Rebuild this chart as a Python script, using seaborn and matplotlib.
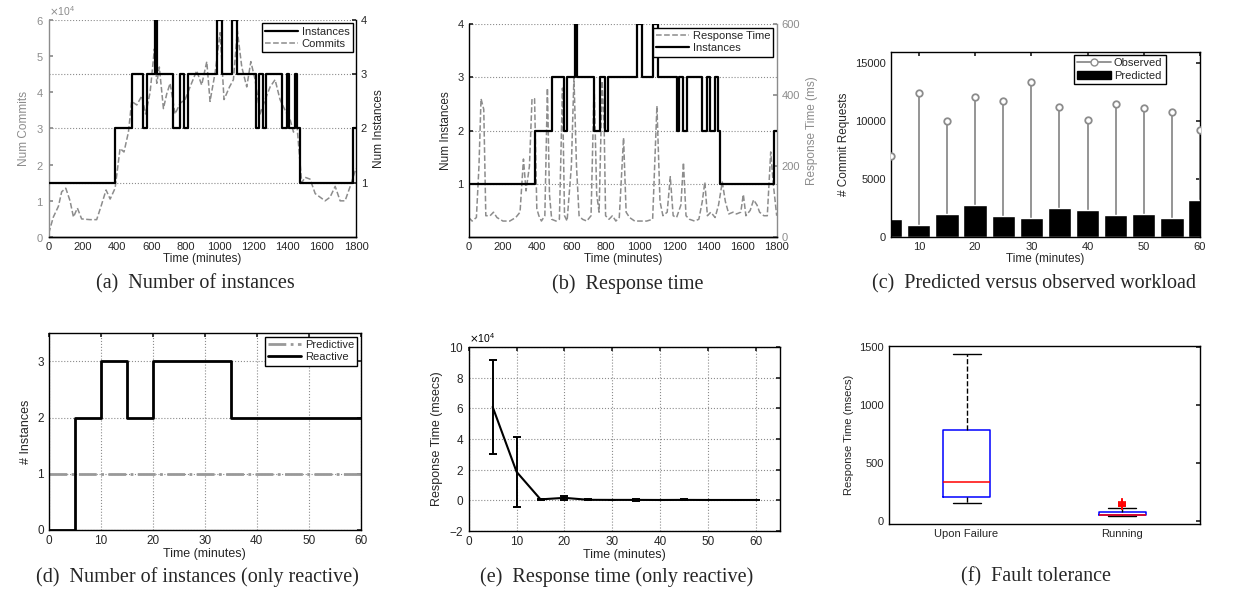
import matplotlib
matplotlib.use("Agg")
import matplotlib.pyplot as plt
from matplotlib.lines import Line2D
from matplotlib.patches import Patch
from matplotlib.ticker import ScalarFormatter
import seaborn as sns

# (a)/(b) number of running instances, step changes (minutes)
inst_t = [0, 390, 485, 555, 575, 620, 635, 730, 770, 795, 815, 985, 1015, 1075,
          1105, 1215, 1230, 1255, 1275, 1365, 1395, 1410, 1440, 1455, 1470, 1785, 1800]
inst_n = [1, 2, 3, 2, 3, 4, 3, 2, 3, 2, 3, 4, 3, 4,
          3, 2, 3, 2, 3, 2, 3, 2, 3, 2, 1, 2, 2]

# (a) commits over time
commit_t = [0, 27, 57, 76, 100, 125, 145, 168, 193, 242, 281, 310, 336, 360, 389,
            418, 441, 467, 486, 516, 545, 568, 594, 619, 633, 648, 672, 691, 711,
            740, 770, 799, 828, 867, 896, 926, 945, 975, 1004, 1027, 1059, 1082,
            1105, 1131, 1160, 1184, 1209, 1238, 1268, 1297, 1326, 1355, 1385, 1414,
            1434, 1453, 1482, 1502, 1531, 1561, 1590, 1619, 1648, 1678, 1707, 1736,
            1766, 1800]
commits = [1000, 5500, 8500, 12500, 13500, 10000, 5500, 8000, 5000, 4800, 4800, 9000,
           13000, 10500, 13500, 24500, 23500, 29000, 37500, 36500, 39000, 34000,
           40000, 52000, 42500, 47000, 35500, 39500, 42500, 34000, 37000, 38000,
           41500, 46000, 42000, 48500, 37500, 45500, 56500, 38000, 41500, 43500,
           57000, 47000, 41500, 48500, 43500, 34000, 38000, 41500, 43500, 38000,
           35000, 32500, 29000, 31500, 15000, 16500, 16000, 12000, 11000, 10000,
           11000, 14000, 10000, 10000, 14000, 19000]

# (b) response time (ms)
resp_t = [0, 20, 45, 60, 72, 88, 100, 125, 145, 165, 200, 240, 275, 300, 320, 335,
          355, 370, 385, 398, 410, 425, 445, 460, 472, 485, 510, 530, 548, 560, 575,
          600, 615, 630, 645, 665, 690, 715, 733, 748, 762, 780, 792, 800, 820, 840,
          860, 880, 905, 920, 940, 970, 1000, 1040, 1075, 1100, 1118, 1135, 1160,
          1178, 1195, 1215, 1240, 1255, 1270, 1290, 1320, 1345, 1365, 1380, 1395,
          1415, 1440, 1460, 1482, 1500, 1520, 1545, 1565, 1590, 1605, 1620, 1645,
          1665, 1685, 1700, 1725, 1745, 1765, 1780, 1800]
resp_ms = [55, 45, 55, 200, 390, 360, 60, 60, 70, 55, 45, 45, 55, 70, 220, 130, 200,
           390, 390, 80, 60, 45, 60, 420, 120, 50, 45, 50, 420, 60, 45, 200, 450, 200,
           60, 50, 45, 60, 430, 120, 70, 440, 300, 60, 50, 60, 45, 55, 280, 70, 55,
           45, 45, 45, 50, 370, 100, 60, 70, 170, 60, 55, 90, 210, 60, 50, 45, 50,
           100, 155, 60, 70, 55, 90, 155, 100, 65, 70, 65, 70, 120, 60, 75, 105, 90,
           70, 60, 60, 240, 150, 60]

# (c) predicted vs observed workload
work_t = [5, 10, 15, 20, 25, 30, 35, 40, 45, 50, 55, 60]
observed = [7000, 12400, 10000, 12050, 11750, 13350, 11200, 10050, 11500, 11100, 10750, 9200]
predicted = [1500, 1050, 1920, 2700, 1810, 1660, 2460, 2350, 1860, 1940, 1600, 3200]

# (d) only reactive
react_t = [0, 5, 10, 15, 20, 35, 60]
react_n = [0, 2, 3, 2, 3, 2, 2]
predictive_t = [0, 60]
predictive_n = [1, 1]

# (e) response time only reactive (msecs)
rt_t = [5, 10, 15, 20, 25, 30, 35, 40, 45, 50, 55, 60]
rt_mean = [61000, 18500, 500, 1500, 200, 150, 150, 100, 150, 100, 100, 100]
rt_err = [30500, 23000, 200, 1300, 300, 100, 400, 150, 300, 150, 200, 150]

# (f) fault tolerance boxplot summary
box_labels = ["Upon Failure", "Running"]
box_whislo = [150, 38]
box_q1 = [202, 50]
box_med = [332, 50]
box_q3 = [787, 75]
box_whishi = [1442, 112]
box_fliers = [[], [122, 130, 138, 146, 155, 162]]

GREY = "0.55"
W, H = 1238, 595


def pos(left, top, right, bottom):
    return [left / W, 1 - bottom / H, (right - left) / W, (bottom - top) / H]


def matlab_ticks(ax, box=True, size=8):
    ax.tick_params(direction="in", length=3, labelsize=size, top=box, right=box)
    for s in ax.spines.values():
        s.set_linewidth(1.0)
        s.set_color("black")


def sci_axis(ax, color="black"):
    # fixed x 10^4 multiplier, as in the original figure
    fmt = ScalarFormatter(useMathText=True)
    fmt.set_powerlimits((4, 4))
    ax.yaxis.set_major_formatter(fmt)
    ax.yaxis.get_offset_text().set_fontsize(7.5)
    ax.yaxis.get_offset_text().set_color(color)


def legend_box(ax, handles, labels, **kw):
    leg = ax.legend(handles, labels, loc="upper right", fontsize=8, frameon=True,
                    fancybox=False, framealpha=1, edgecolor="black",
                    handlelength=3.0, borderpad=0.3, labelspacing=0.2,
                    handletextpad=0.3, borderaxespad=0.3, **kw)
    leg.get_frame().set_linewidth(1.0)
    return leg


sns.set_theme(style="white")
plt.rcParams["font.family"] = ["Liberation Sans", "DejaVu Sans"]
plt.rcParams["axes.labelsize"] = 8.5

fig = plt.figure(figsize=(12.38, 5.95), dpi=100)

# ---------- (a) ----------
ax = fig.add_axes(pos(48.7, 20, 356, 237))
ax2 = ax.twinx()
sns.lineplot(x=commit_t, y=commits, ax=ax, color=GREY, linestyle="--", linewidth=1.1)
sns.lineplot(x=inst_t, y=inst_n, ax=ax2, color="black", linewidth=1.6,
             drawstyle="steps-post", estimator=None)
ax.set_xlim(0, 1800)
ax.set_xticks(range(0, 1801, 200))
ax.set_ylim(0, 60000)
ax.set_yticks(range(0, 60001, 10000))
sci_axis(ax, GREY)
ax2.set_ylim(0, 4)
ax2.set_yticks([1, 2, 3, 4])
ax2.yaxis.grid(True, linestyle=":", color="0.55", linewidth=0.8)
matlab_ticks(ax, box=False)
matlab_ticks(ax2, box=False)
ax2.tick_params(right=True, left=False)
ax.tick_params(axis="y", colors=GREY)
ax.spines["left"].set_color(GREY)
ax.spines["top"].set_visible(False)
ax.spines["right"].set_visible(False)
ax2.spines["top"].set_visible(False)
ax2.spines["left"].set_visible(False)
ax.set_xlabel("Time (minutes)", labelpad=1)
ax.set_ylabel("Num Commits", color=GREY)
ax2.set_ylabel("Num Instances")
legend_box(ax2, [Line2D([], [], color="black", lw=1.6),
                 Line2D([], [], color=GREY, lw=1.1, ls="--")],
           ["Instances", "Commits"])

# ---------- (b) ----------
ax = fig.add_axes(pos(468.7, 24.3, 776.7, 237))
ax2 = ax.twinx()
sns.lineplot(x=resp_t, y=resp_ms, ax=ax2, color=GREY, linestyle="--", linewidth=1.1)
sns.lineplot(x=inst_t, y=inst_n, ax=ax, color="black", linewidth=1.6,
             drawstyle="steps-post", estimator=None)
ax.set_zorder(ax2.get_zorder() + 1)
ax.patch.set_visible(False)
ax.set_xlim(0, 1800)
ax.set_xticks(range(0, 1801, 200))
ax.set_ylim(0, 4)
ax.set_yticks([1, 2, 3, 4])
ax.yaxis.grid(True, linestyle=":", color="0.55", linewidth=0.8)
ax2.set_ylim(0, 600)
ax2.set_yticks([0, 200, 400, 600])
matlab_ticks(ax, box=False)
matlab_ticks(ax2, box=False)
ax2.tick_params(right=True, left=False, colors=GREY)
ax2.spines["right"].set_color(GREY)
ax.spines["top"].set_visible(False)
ax.spines["right"].set_visible(False)
ax2.spines["top"].set_visible(False)
ax2.spines["left"].set_visible(False)
ax.set_xlabel("Time (minutes)", labelpad=1)
ax.set_ylabel("Num Instances")
ax2.set_ylabel("Response Time (ms)", color=GREY)
legend_box(ax, [Line2D([], [], color=GREY, lw=1.1, ls="--"),
                Line2D([], [], color="black", lw=1.6)],
           ["Response Time", "Instances"])

# ---------- (c) ----------
ax = fig.add_axes(pos(890.7, 51.7, 1200, 236.7))
ax.vlines(work_t, 0, observed, color=GREY, linewidth=1.3, zorder=1)
sns.scatterplot(x=work_t, y=observed, ax=ax, marker="o", s=22, facecolor="white",
                edgecolor=GREY, linewidth=1.3, zorder=3)
sns.barplot(x=work_t, y=predicted, ax=ax, native_scale=True, color="black",
            saturation=1, width=0.83, errorbar=None, zorder=2)
ax.set_xlim(5, 60)
ax.set_xticks([10, 20, 30, 40, 50, 60])
ax.set_ylim(0, 16000)
ax.set_yticks([0, 5000, 10000, 15000])
matlab_ticks(ax)
ax.set_xlabel("Time (minutes)", labelpad=1)
ax.set_ylabel("# Commit Requests")
legend_box(ax, [Line2D([], [], color=GREY, lw=1.3, marker="o", mfc="white", ms=5),
                Patch(facecolor="black", edgecolor="black")],
           ["Observed", "Predicted"], bbox_to_anchor=(0.9, 1.0))

# ---------- (d) ----------
ax = fig.add_axes(pos(48.7, 333.3, 360.7, 530))
sns.lineplot(x=predictive_t, y=predictive_n, ax=ax, color="0.6", linestyle="-.",
             linewidth=2)
sns.lineplot(x=react_t, y=react_n, ax=ax, color="black", linewidth=2,
             drawstyle="steps-post", estimator=None)
ax.set_xlim(0, 60)
ax.set_xticks(range(0, 61, 10))
ax.set_ylim(0, 3.5)
ax.set_yticks([0, 1, 2, 3])
ax.grid(True, linestyle=":", color="0.55", linewidth=0.8)
matlab_ticks(ax, size=8.5)
ax.set_xlabel("Time (minutes)", fontsize=9, labelpad=1)
ax.set_ylabel("# Instances", fontsize=9)
legend_box(ax, [Line2D([], [], color="0.6", lw=2, ls="-."),
                Line2D([], [], color="black", lw=2)],
           ["Predictive", "Reactive"])

# ---------- (e) ----------
ax = fig.add_axes(pos(468.7, 347.3, 780, 530.7))
sns.lineplot(x=rt_t, y=rt_mean, ax=ax, color="black", linewidth=1.5)
ax.errorbar(rt_t, rt_mean, yerr=rt_err, fmt="none", ecolor="black",
            elinewidth=1.4, capsize=3, capthick=1.4)
ax.set_xlim(0, 65)
ax.set_xticks(range(0, 61, 10))
ax.set_ylim(-20000, 100000)
ax.set_yticks(range(-20000, 100001, 20000))
sci_axis(ax)
ax.grid(True, linestyle=":", color="0.55", linewidth=0.8)
matlab_ticks(ax, size=8.5)
ax.set_xlabel("Time (minutes)", fontsize=9, labelpad=1)
ax.set_ylabel("Response Time (msecs)", fontsize=9)

# ---------- (f) ----------
ax = fig.add_axes(pos(888.7, 346, 1200, 524))
stats = [dict(label=box_labels[i], whislo=box_whislo[i], q1=box_q1[i],
              med=box_med[i], q3=box_q3[i], whishi=box_whishi[i],
              fliers=box_fliers[i]) for i in range(2)]
ax.bxp(stats, positions=[1, 2], widths=0.3, capwidths=0.18,
       boxprops=dict(color="blue", linewidth=1.1),
       medianprops=dict(color="red", linewidth=1.1),
       whiskerprops=dict(color="black", linestyle="--", linewidth=1.0),
       capprops=dict(color="black", linewidth=1.0),
       flierprops=dict(marker="+", markeredgecolor="red", markersize=6,
                       markeredgewidth=1.2))
ax.set_xlim(0.5, 2.5)
ax.set_ylim(-30, 1510)
ax.set_yticks([0, 500, 1000, 1500])
matlab_ticks(ax)
ax.tick_params(axis="x", length=0, top=False)
ax.set_ylabel("Response Time (msecs)", fontsize=8)

# captions
caps = [("(a)  Number of instances", 195, 284),
        ("(b)  Response time", 628, 284),
        ("(c)  Predicted versus observed workload", 1034, 284),
        ("(d)  Number of instances (only reactive)", 197, 577),
        ("(e)  Response time (only reactive)", 617, 577),
        ("(f)  Fault tolerance", 1036, 577)]
for text, cx, cy in caps:
    fig.text(cx / W, 1 - cy / H, text, ha="center", va="center",
             family=["Liberation Serif", "DejaVu Serif"], fontsize=14.5)

fig.savefig("out.png", dpi=100)
